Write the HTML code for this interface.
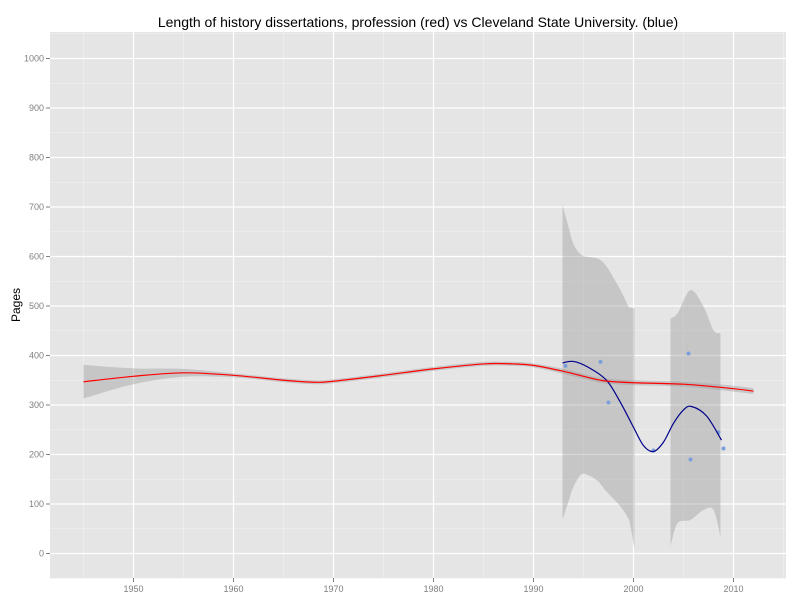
<!DOCTYPE html>
<html><head><meta charset="utf-8"><style>
body{margin:0;background:#fff;}
svg{display:block;font-family:"Liberation Sans",sans-serif;}
</style></head><body>
<svg id="chart" width="800" height="600">
<rect x="0" y="0" width="800" height="600" fill="#fff"/>
<text x="418" y="27" text-anchor="middle" font-size="14" fill="#000">Length of history dissertations, profession (red) vs Cleveland State University. (blue)</text>
<text transform="translate(20,305) rotate(-90)" text-anchor="middle" font-size="12" fill="#000">Pages</text>
<g id="plot"></g>
</svg>
<script>
const xTicks=[1950,1960,1970,1980,1990,2000,2010];
const yTicks=[0,100,200,300,400,500,600,700,800,900,1000];
const redYears=[1945,1950,1955,1960,1965,1968,1970,1975,1980,1985,1988,1990,1993,1995,1997,2000,2005,2010,2012];
const redValues=[347,358,365,360,350,346,348,360,373,383,383,380,368,358,349,345,342,333,328];
const redUpper=[381,374,373,364,354,350,352,364,377,387,387,384,373,363,354,350,347,339,334];
const redLower=[313,342,357,356,346,342,344,356,369,379,379,376,363,353,344,340,337,327,322];
const blueYears=[1992.9,1994,1995.5,1997.3,1998.7,2000,2001,2002,2003,2004,2005,2005.8,2007.3,2008.8];
const blueValues=[385,388,376,350,305,255,218,206,225,263,290,297,278,229];
const band1Years=[1992.9,1993.5,1994,1994.8,1995.6,1996.5,1997.3,1998.7,1999.5,1999.7,2000.1];
const band1Upper=[704,660,625,603,599,595,580,532,499,497,495];
const band1Lower=[68,105,135,160,157,145,125,95,70,54,10];
const band2Years=[2003.7,2004.4,2005.7,2007,2008,2008.7];
const band2Upper=[475,485,532,499,451,445];
const band2Lower=[14,61,68,88,88,34];
const ptYears=[1993.2,1996.7,1997.5,2002,2005.5,2005.7,2008.5,2009];
const ptValues=[379,387,305,208,404,190,245,212];

const L=50,R=786,T=32,B=578;
const X=y=>133.5+(y-1950)*10;
const Y=v=>553.5-v*0.495;
const NS='http://www.w3.org/2000/svg';
const g=document.getElementById('plot');
function mk(tag,attrs){const e=document.createElementNS(NS,tag);for(const k in attrs)e.setAttribute(k,attrs[k]);g.appendChild(e);return e;}
function smooth(pts,move){
  let d=(move?'M':'L')+pts[0][0]+','+pts[0][1];
  for(let i=0;i<pts.length-1;i++){
    const p0=pts[Math.max(0,i-1)],p1=pts[i],p2=pts[i+1],p3=pts[Math.min(pts.length-1,i+2)];
    const c1=[p1[0]+(p2[0]-p0[0])/6,p1[1]+(p2[1]-p0[1])/6];
    const c2=[p2[0]-(p3[0]-p1[0])/6,p2[1]-(p3[1]-p1[1])/6];
    d+='C'+c1[0]+','+c1[1]+' '+c2[0]+','+c2[1]+' '+p2[0]+','+p2[1];
  }
  return d;
}
let e=mk('rect',{x:L,y:T,width:R-L,height:B-T,fill:'#e5e5e5'});


for(let yr=1945;yr<=2015;yr+=10){e=mk('line',{x1:X(yr),x2:X(yr),y1:T,y2:B,stroke:'#f2f2f2','stroke-width':0.6});

}
for(let v=-50;v<=1050;v+=100){e=mk('line',{x1:L,x2:R,y1:Y(v),y2:Y(v),stroke:'#f2f2f2','stroke-width':0.6});

}
xTicks.forEach(t=>{
e=mk('line',{x1:X(t),x2:X(t),y1:T,y2:B,stroke:'#fff','stroke-width':1.2});


e=mk('line',{x1:X(t),x2:X(t),y1:B,y2:B+4,stroke:'#7f7f7f'});


e=mk('text',{x:X(t),y:B+14,'text-anchor':'middle','font-size':9,fill:'#7f7f7f'});e.textContent=t;


});
yTicks.forEach(t=>{
e=mk('line',{x1:L,x2:R,y1:Y(t),y2:Y(t),stroke:'#fff','stroke-width':1.2});


e=mk('line',{x1:L-4,x2:L,y1:Y(t),y2:Y(t),stroke:'#7f7f7f'});


e=mk('text',{x:L-6,y:Y(t)+3,'text-anchor':'end','font-size':9,fill:'#7f7f7f'});e.textContent=t;


});
function band(xs,up,lo){
  const u=xs.map((x,i)=>[X(x),Y(up[i])]);
  const l=xs.map((x,i)=>[X(x),Y(lo[i])]).reverse();
  return smooth(u,true)+smooth(l,false)+'Z';
}
function line(xs,vs){return smooth(xs.map((x,i)=>[X(x),Y(vs[i])]),true);}
e=mk('path',{d:band(redYears,redUpper,redLower),fill:'#999',opacity:0.4});


e=mk('path',{d:band(band1Years,band1Upper,band1Lower),fill:'#999',opacity:0.4});


e=mk('path',{d:band(band2Years,band2Upper,band2Lower),fill:'#999',opacity:0.4});


ptYears.forEach((yr,i)=>{e=mk('circle',{cx:X(yr),cy:Y(ptValues[i]),r:2,fill:'#7b9fdc'});

});
e=mk('path',{d:line(blueYears,blueValues),fill:'none',stroke:'#00008b','stroke-width':1.2,'stroke-linejoin':'round'});


e=mk('path',{d:line(redYears,redValues),fill:'none',stroke:'#ff0000','stroke-width':1.2,'stroke-linejoin':'round'});


</script>
</body></html>
